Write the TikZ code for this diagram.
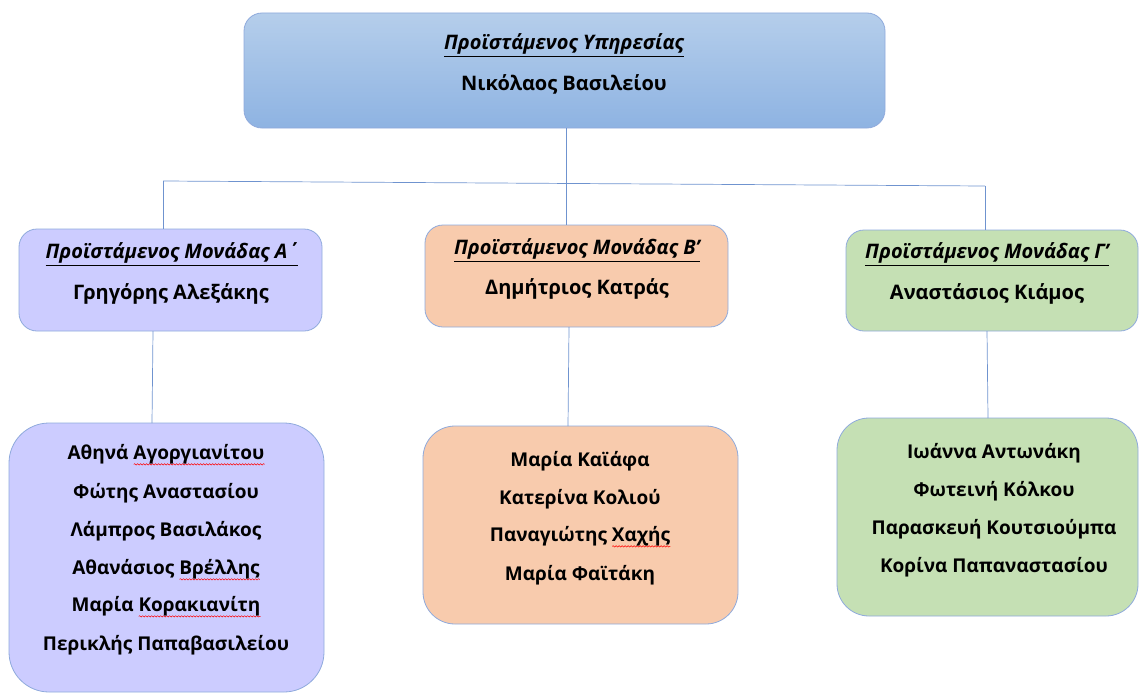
\documentclass[tikz,border=0pt]{standalone}
\usepackage{fontspec}
\setmainfont{Open Sans}
\usetikzlibrary{decorations.pathmorphing}
\newsavebox\spbox
\newcommand\spellmark[1]{\sbox\spbox{#1}\makebox[0pt][l]{\raisebox{-4.5pt}{\tikz[baseline=(o.base)]{\coordinate (o) at (0pt,0pt); \draw[red, line width=0.5pt, decorate, decoration={snake, amplitude=0.7pt, segment length=3pt}] (0pt,0pt) -- (\wd\spbox,0pt);}}}\usebox\spbox}
\definecolor{bordc}{HTML}{8FAADC}
\definecolor{linec}{HTML}{6F93CF}
\definecolor{topa}{HTML}{B5CEEB}
\definecolor{topb}{HTML}{8EB3E2}
\definecolor{fillA}{HTML}{CCCCFF}
\definecolor{fillB}{HTML}{F8CBAD}
\definecolor{fillC}{HTML}{C5E0B4}
\tikzset{
  box/.style={draw=bordc, line width=0.8pt, rounded corners=18pt},
  conn/.style={draw=linec, line width=0.7pt},
  ttl/.style={font=\bfseries\itshape\fontsize{20}{24}\selectfont, anchor=center},
  nm/.style={font=\bfseries\fontsize{20}{24}\selectfont, anchor=center},
  lst/.style={font=\bfseries\fontsize{19}{23}\selectfont, anchor=center}
}
\begin{document}
\begin{tikzpicture}[x=1pt,y=-1pt]
\useasboundingbox (0,0) rectangle (1139,693);
% boxes
\path[box, top color=topa, bottom color=topb] (244,13) rectangle (885,128);
\node[ttl] (t0) at (564,45) {\underline{Προϊστάμενος Υπηρεσίας}};
\node[nm] (n0) at (564,84) {Νικόλαος Βασιλείου};
\coordinate (top) at (566,128);

\path[box, fill=fillA] (19,229) rectangle (322,331);
\node[ttl] (tA) at (172,254) {\underline{Προϊστάμενος Μονάδας Α΄}};
\node[nm] (nA) at (171,294) {Γρηγόρης Αλεξάκης};

\path[box, fill=fillB] (425,225) rectangle (728,327);
\node[ttl] (tB) at (577,250) {\underline{Προϊστάμενος Μονάδας Β’}};
\node[nm] (nB) at (577,289) {Δημήτριος Κατράς};

\path[box, fill=fillC] (846,230) rectangle (1138,331);
\node[ttl] (tC) at (987,254) {\underline{Προϊστάμενος Μονάδας Γ’}};
\node[nm] (nC) at (987,294) {Αναστάσιος Κιάμος};

\path[box, rounded corners=40pt, fill=fillA] (9,423) rectangle (324,692);
\path[box, rounded corners=32pt, fill=fillB] (423,426) rectangle (738,624);
\path[box, rounded corners=32pt, fill=fillC] (837,418) rectangle (1138,616);

\node[lst] (a1) at (166,455) {Αθηνά \spellmark{Αγοργιανίτου}};
\node[lst] (a2) at (166,493) {Φώτης Αναστασίου};
\node[lst] (a3) at (166,531) {Λάμπρος Βασιλάκος};
\node[lst] (a4) at (166,570) {Αθανάσιος \spellmark{Βρέλλης}};
\node[lst] (a5) at (166,607) {Μαρία \spellmark{Κορακιανίτη}};
\node[lst] (a6) at (166,645) {Περικλής Παπαβασιλείου};

\node[lst] (b1) at (580,461) {Μαρία Καϊάφα};
\node[lst] (b2) at (580,499) {Κατερίνα Κολιού};
\node[lst] (b3) at (580,537) {Παναγιώτης \spellmark{Χαχής}};
\node[lst] (b4) at (580,575) {Μαρία Φαϊτάκη};

\node[lst] (c1) at (994,453) {Ιωάννα Αντωνάκη};
\node[lst] (c2) at (994,491) {Φωτεινή Κόλκου};
\node[lst] (c3) at (994,529) {Παρασκευή Κουτσιούμπα};
\node[lst] (c4) at (994,567) {Κορίνα Παπαναστασίου};

% connectors
\coordinate (jl) at (163,181);
\coordinate (jm) at (566,184);
\coordinate (jr) at (985,186);
\coordinate (Atop) at (163,229);
\coordinate (Btop) at (566,225);
\coordinate (Ctop) at (985,230);
\draw[conn] (top) -- (jm);
\draw[conn] (jl) -- (jr);
\draw[conn] (jl) -- (Atop);
\draw[conn] (jm) -- (Btop);
\draw[conn] (jr) -- (Ctop);
\coordinate (Abot) at (153,331);
\coordinate (A2top) at (152,423);
\coordinate (Bbot) at (569,327);
\coordinate (B2top) at (568,426);
\coordinate (Cbot) at (987,331);
\coordinate (C2top) at (988,418);
\draw[conn] (Abot) -- (A2top);
\draw[conn] (Bbot) -- (B2top);
\draw[conn] (Cbot) -- (C2top);
\end{tikzpicture}
\end{document}
